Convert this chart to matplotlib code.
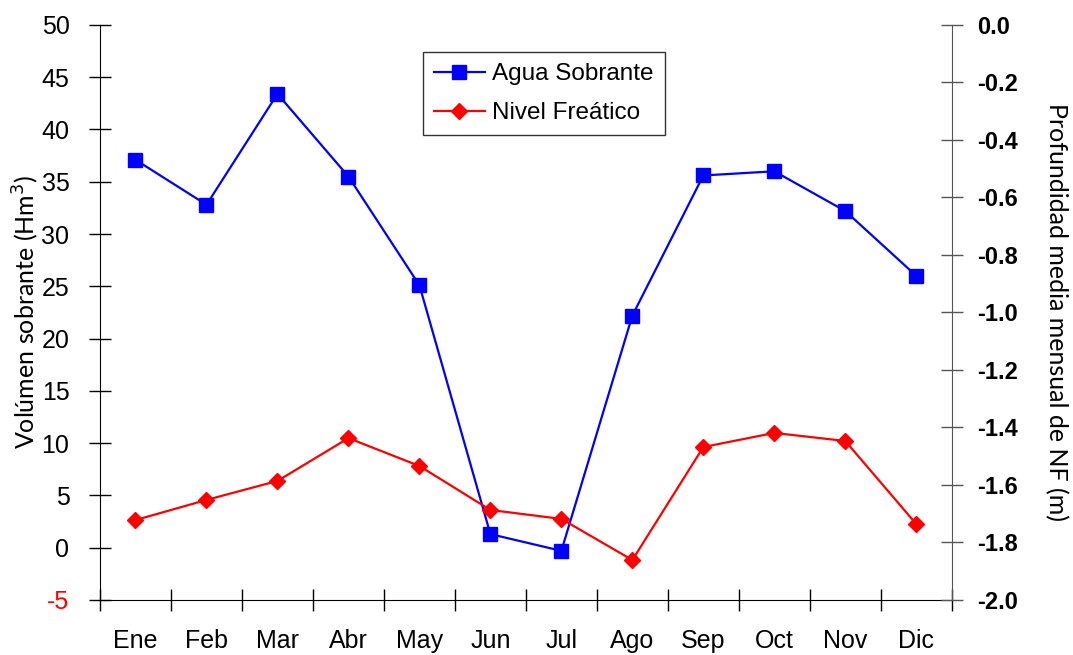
import matplotlib.pyplot as plt
import numpy as np

# Datos
meses = ['Ene', 'Feb', 'Mar', 'Abr', 'May', 'Jun', 'Jul', 'Ago', 'Sep', 'Oct', 'Nov', 'Dic']
agua_sobrante = [37.1, 32.8, 43.4, 35.5, 25.1, 1.3, -0.3, 22.2, 35.6, 36.0, 32.2, 26.0]
nivel_freatico = [-1.722, -1.652, -1.586, -1.437, -1.534, -1.687, -1.718, -1.861,
                  -1.468, -1.419, -1.447, -1.736]
ticks_izq = [-5, 0, 5, 10, 15, 20, 25, 30, 35, 40, 45, 50]
ticks_der = [-2.0, -1.8, -1.6, -1.4, -1.2, -1.0, -0.8, -0.6, -0.4, -0.2, 0.0]

x = np.arange(len(meses))

fig, ax = plt.subplots(figsize=(10.73, 6.55), dpi=100)
fig.subplots_adjust(left=0.0932, right=0.887, top=0.962, bottom=0.084)
ax2 = ax.twinx()

l1, = ax.plot(x, agua_sobrante, color='#0000FF', marker='s', markersize=10,
              linewidth=1.6, label='Agua Sobrante', clip_on=False, zorder=3)
l2, = ax2.plot(x, nivel_freatico, color='#FF0000', marker='D', markersize=8,
               linewidth=1.6, label='Nivel Freático', clip_on=False, zorder=3)

# Eje izquierdo
ax.set_xlim(-0.5, len(meses) - 0.5)
ax.set_ylim(-5, 50)
ax.set_yticks(ticks_izq)
ax.set_yticklabels([str(t) for t in ticks_izq], fontfamily='Liberation Sans', fontsize=18)
ax.get_yticklabels()[0].set_color('#FF0000')
ax.tick_params(axis='y', direction='inout', length=16, width=1, pad=14)
ax.set_ylabel('Volúmen sobrante (Hm$^3$)', fontfamily='Lato', fontsize=18, labelpad=0)

# Eje X: marcas entre categorías, etiquetas centradas
ax.set_xticks(np.arange(len(meses) + 1) - 0.5)
ax.set_xticklabels([])
ax.set_xticks(x, minor=True)
ax.set_xticklabels(meses, minor=True, fontfamily='Liberation Sans', fontsize=18)
ax.tick_params(axis='x', which='major', direction='inout', length=16, width=1)
ax.tick_params(axis='x', which='minor', length=0, pad=21)

# Eje derecho
ax2.set_ylim(-2.0, 0.0)
ax2.set_yticks(ticks_der)
ax2.set_yticklabels([f'{t:.1f}' for t in ticks_der], fontfamily='Liberation Sans',
                    fontsize=17, fontweight='bold')
ax2.tick_params(axis='y', direction='inout', length=16, width=1, pad=10, color='#555555')
ax2.set_ylabel('Profundidad media mensual de NF (m)', fontfamily='Lato', fontsize=18,
               rotation=270, labelpad=36)

for a in (ax, ax2):
    a.spines['top'].set_visible(False)
ax.spines['right'].set_visible(False)
ax2.spines['left'].set_visible(False)
ax2.spines['bottom'].set_visible(False)
ax2.spines['right'].set_color('#555555')

leg = ax2.legend(handles=[l1, l2], loc='upper left', bbox_to_anchor=(0.379, 0.952),
                 prop={'family': 'Liberation Sans', 'size': 17.5}, frameon=True,
                 fancybox=False, edgecolor='black', handlelength=2.1,
                 borderpad=0.45, labelspacing=0.7, handletextpad=0.3,
                 borderaxespad=0.0)
leg.get_frame().set_linewidth(1.0)

fig.savefig('out.png', dpi=100)
